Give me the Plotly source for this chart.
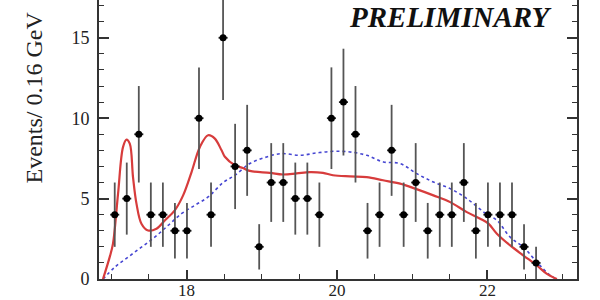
import plotly.graph_objects as go

# Data points (bin centres, GeV) and counts
bin_centers = [17.046 + 0.16 * i for i in range(36)]
counts = [4, 5, 9, 4, 4, 3, 3, 10, 4, 15, 7, 8, 2, 6, 6, 5, 5, 4,
          10, 11, 9, 3, 4, 8, 4, 6, 3, 4, 4, 6, 3, 4, 4, 4, 2, 1]
count_err = [2.0, 2.24, 3.0, 2.0, 2.0, 1.73, 1.73, 3.16, 2.0, 3.87, 2.65, 2.83,
             1.41, 2.45, 2.45, 2.24, 2.24, 2.0, 3.16, 3.32, 3.0, 1.73, 2.0, 2.83,
             2.0, 2.45, 1.73, 2.0, 2.0, 2.45, 1.73, 2.0, 2.0, 2.0, 1.41, 1.0]
bin_half = [0.06] * 36

# Total fit (red)
fit_x = [16.890, 16.979, 17.023, 17.090, 17.156, 17.202, 17.246, 17.289, 17.335,
         17.401, 17.489, 17.601, 17.711, 17.844, 17.955, 18.067, 18.177, 18.287,
         18.377, 18.466, 18.510, 18.643, 18.749, 18.842, 19.108, 19.281, 19.464,
         19.641, 19.814, 19.947, 20.173, 20.395, 20.612, 20.839, 21.038, 21.281,
         21.504, 21.726, 21.903, 22.013, 22.125, 22.302, 22.479, 22.657, 22.790,
         22.923]
fit_y = [0.0, 1.36, 2.2, 5.3, 8.2, 8.67, 8.42, 6.34, 4.69,
         3.44, 3.02, 3.13, 3.64, 4.27, 5.2, 6.65, 8.2, 8.94,
         8.73, 8.0, 7.6, 7.07, 6.9, 6.72, 6.6, 6.5, 6.57,
         6.65, 6.6, 6.45, 6.38, 6.34, 6.14, 5.93, 5.62, 5.2,
         4.78, 4.16, 3.75, 3.44, 2.82, 2.09, 1.46, 0.84, 0.32,
         0.0]

# Background (blue dotted)
bkg_x = [16.890, 17.046, 17.223, 17.401, 17.578, 17.755, 17.933, 18.110, 18.287,
         18.487, 18.643, 18.842, 19.065, 19.264, 19.508, 19.730, 19.951, 20.173,
         20.395, 20.616, 20.839, 21.061, 21.281, 21.504, 21.726, 21.970, 22.125,
         22.302, 22.479, 22.657, 22.834, 22.923]
bkg_y = [0.0, 0.73, 1.36, 1.98, 2.6, 3.33, 4.06, 4.58, 5.1,
         6.0, 6.45, 7.18, 7.59, 7.8, 7.69, 7.84, 7.94, 7.9,
         7.69, 7.28, 7.18, 6.55, 6.03, 5.62, 5.0, 4.1, 3.65,
         2.6, 1.98, 1.05, 0.22, 0.0]

x_range = [16.837, 23.19]
y_range = [0, 17.35]
x_ticks = [18, 20, 22]
y_ticks = [0, 5, 10, 15]

fig = go.Figure()
fig.add_trace(go.Scatter(x=bkg_x, y=bkg_y, mode="lines", line_shape="spline",
                         line=dict(color="rgb(70,70,210)", width=1.6, dash="dot"),
                         hoverinfo="skip", showlegend=False))
fig.add_trace(go.Scatter(x=fit_x, y=fit_y, mode="lines", line_shape="spline",
                         line=dict(color="rgb(215,60,60)", width=2.2),
                         hoverinfo="skip", showlegend=False))
fig.add_trace(go.Scatter(x=bin_centers, y=counts, mode="markers",
                         marker=dict(color="black", size=7),
                         error_y=dict(type="data", array=count_err, width=0,
                                      color="#555", thickness=1.8),
                         error_x=dict(type="data", array=bin_half, width=0,
                                      color="#222", thickness=1.8),
                         showlegend=False))

tickfont = dict(family="Liberation Serif", size=18, color="#222")
fig.update_xaxes(range=x_range, tickvals=x_ticks, ticks="inside", ticklen=9,
                 tickwidth=1.5, tickcolor="#333", showline=True, linecolor="#333",
                 linewidth=2, mirror=False, showgrid=False, zeroline=False,
                 tickfont=dict(family="Liberation Serif", size=17, color="#222"),
                 automargin=False, ticklabelstandoff=-5,
                 minor=dict(dtick=0.5, tick0=0, ticks="inside", ticklen=5,
                            tickcolor="#333", tickwidth=1.2, showgrid=False))
fig.update_yaxes(range=y_range, tickvals=y_ticks, ticks="inside", ticklen=10,
                 tickwidth=1.5, tickcolor="#333", showline=True, linecolor="#333",
                 linewidth=2, mirror="ticks", showgrid=False, zeroline=False,
                 tickfont=tickfont, ticklabelstandoff=4, automargin=False,
                 minor=dict(dtick=1, tick0=0, ticks="inside", ticklen=5,
                            tickcolor="#333", tickwidth=1.2, showgrid=False))

fig.add_annotation(text="Events/ 0.16 GeV", textangle=-90, xref="paper", yref="paper",
                   x=(33.5 - 99) / 478, y=(279 - 186) / 279, xanchor="center",
                   yanchor="bottom", showarrow=False,
                   font=dict(family="Liberation Serif", size=24, color="#222"))
fig.add_annotation(text="PRELIMINARY", xref="paper", yref="paper",
                   x=(450 - 99) / 478, y=1.0, xanchor="center",
                   yanchor="top", showarrow=False, borderpad=0,
                   font=dict(family="Liberation Serif", size=29, color="#111",
                             weight="bold", style="italic"))

fig.update_layout(width=600, height=300, margin=dict(l=99, r=23, t=0, b=21),
                  plot_bgcolor="white", paper_bgcolor="white")
fig.write_html("out.html")
